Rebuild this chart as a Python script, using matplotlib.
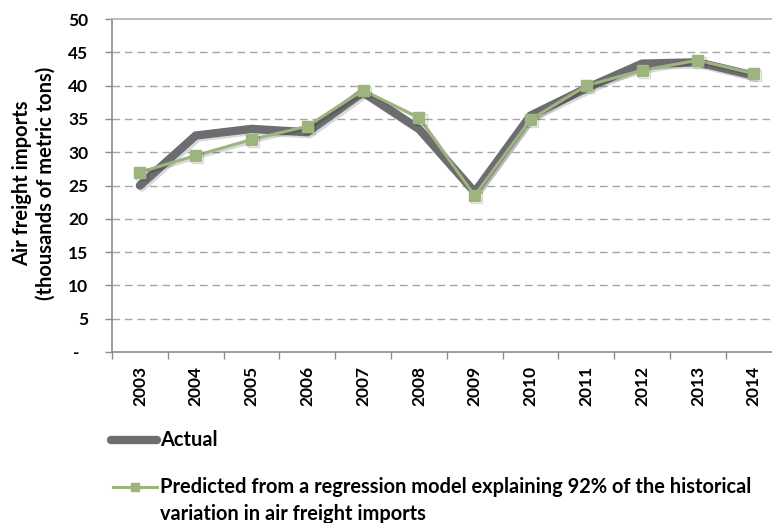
import matplotlib.pyplot as plt
import matplotlib.patheffects as pe
from matplotlib.lines import Line2D

years = ['2003', '2004', '2005', '2006', '2007', '2008',
         '2009', '2010', '2011', '2012', '2013', '2014']
actual = [25.0, 32.5, 33.5, 33.0, 39.0, 33.5, 24.0, 35.5, 39.6, 43.3, 43.5, 41.5]
predicted = [27.0, 29.5, 31.9, 33.9, 39.3, 35.2, 23.5, 34.9, 40.0, 42.3, 43.8, 41.8]
y_ticks = [0, 5, 10, 15, 20, 25, 30, 35, 40, 45, 50]
y_labels = ['-  ', '5', '10', '15', '20', '25', '30', '35', '40', '45', '50']
legend_labels = ['Actual',
                 'Predicted from a regression model explaining 92% of the historical',
                 'variation in air freight imports']

GRAY = '#6d6c71'
GREEN = '#9db47f'
AXIS = '#8c8c8c'

plt.rcParams['font.family'] = ['Lato', 'DejaVu Sans']
plt.rcParams['font.weight'] = 'bold'


def main():
    W, H = 772, 523
    fig = plt.figure(figsize=(W / 100, H / 100), dpi=100)
    # the plot area runs a little past the right edge of the image
    ax = fig.add_axes([112 / W, (H - 352) / H, 669.6 / W, 333 / H])

    xs = list(range(len(years)))
    shadow = [pe.SimpleLineShadow(offset=(1.5, -1.5), alpha=0.15, shadow_color='black'),
              pe.Normal()]
    ax.plot(xs, actual, color=GRAY, lw=6, solid_capstyle='round',
            solid_joinstyle='miter', path_effects=shadow, zorder=3)
    ax.plot(xs, predicted, color=GREEN, lw=2.2, marker='s', markersize=8,
            markerfacecolor=GREEN, markeredgecolor=GREEN,
            path_effects=shadow, zorder=4)

    ax.set_xlim(-0.5, len(years) - 0.5)
    ax.set_ylim(0, 50)

    ax.set_yticks(y_ticks)
    ax.set_yticklabels(y_labels)
    ax.tick_params(axis='y', length=5, width=1, color=AXIS, pad=12, labelsize=12.5)

    ax.set_xticks([i - 0.5 for i in range(len(years) + 1)])
    ax.set_xticklabels([])
    ax.set_xticks(xs, minor=True)
    ax.set_xticklabels(years, minor=True, rotation=90)
    ax.tick_params(axis='x', which='major', length=5, width=1, color=AXIS)
    ax.tick_params(axis='x', which='minor', length=0, pad=10, labelsize=12.5)

    for y in y_ticks[1:-1]:
        ax.axhline(y, color='#a6a6a6', lw=1.0, dashes=(5.5, 3.5), zorder=1)

    for side in ['left', 'bottom', 'top']:
        ax.spines[side].set_color(AXIS)
        ax.spines[side].set_linewidth(1.2)
    ax.spines['top'].set_color('#b0b0b0')
    ax.spines['right'].set_visible(False)

    fig.text(34 / W, 1 - 183 / H,
             'Air freight imports\n(thousands of metric tons)',
             rotation=90, ha='center', va='center', multialignment='center',
             fontsize=14.5, linespacing=1.2)

    # legend keys drawn by hand so the wrapped label lines up with its first line
    fig.add_artist(Line2D([111 / W, 157 / W], [1 - 440 / H, 1 - 440 / H],
                          color=GRAY, lw=6, solid_capstyle='round',
                          transform=fig.transFigure))
    fig.add_artist(Line2D([113 / W, 157 / W], [1 - 487 / H, 1 - 487 / H],
                          color=GREEN, lw=2.2, transform=fig.transFigure))
    fig.add_artist(Line2D([135 / W], [1 - 487 / H], color=GREEN, marker='s',
                          markersize=6, transform=fig.transFigure))
    for label, ypix in zip(legend_labels, [440, 487, 514]):
        fig.text(160 / W, 1 - ypix / H, label, ha='left', va='center', fontsize=14.4)

    fig.savefig('out.png', dpi=100)


if __name__ == '__main__':
    main()
